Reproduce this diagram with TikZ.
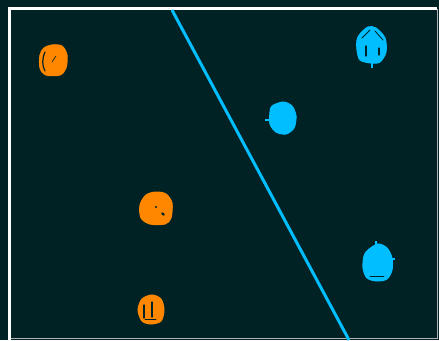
\documentclass[tikz,border=0pt]{standalone}
\begin{document}
\begin{tikzpicture}[x=1pt,y=-1pt,
  blobO/.style={fill=orng,draw=orng,line width=1pt},
  blobB/.style={fill=skyb,draw=skyb,line width=1pt},
  markD/.style={draw=bgc,line width=1.2pt,line cap=round},
  divider/.style={draw=skyb,line width=3pt}]
\definecolor{bgc}{RGB}{1,34,37}
\definecolor{orng}{RGB}{255,135,0}
\definecolor{skyb}{RGB}{0,190,255}
\useasboundingbox (0,0) rectangle (439,340);
\fill[bgc] (0,0) rectangle (439,340);
% frame
\draw[white,line width=3pt] (9.5,340) -- (9.5,8.5) -- (437,8.5);
\draw[gray!60,line width=1pt] (437,8.5) -- (437,338.5) -- (11,338.5);
% divider line
\coordinate (ltop) at (172,10);
\coordinate (lbot) at (349,340);
\draw[divider] (ltop) -- (lbot);
% orange top-left
\draw[blobO] plot[smooth cycle] coordinates {(44,48) (52,45) (62,46) (67,55) (66,68) (60,75) (46,75) (40,68) (40,55)};
\draw[markD] (45,52) .. controls (42,58) and (42,66) .. (45,71);
\draw[markD,line width=0.6pt] (52,62) -- (56,56);
% orange middle
\draw[blobO] plot[smooth cycle] coordinates {(146,195) (156,192) (166,194) (172,203) (171,218) (165,224) (150,224) (141,218) (140,205)};
\fill[bgc] (156,207) circle (1.2);
\fill[bgc,rotate around={-40:(163,214)}] (163,214) ellipse (2 and 1.2);
% orange bottom
\draw[blobO] plot[smooth cycle] coordinates {(142,299) (152,295) (161,299) (164,310) (161,321) (151,324) (142,321) (138,310)};
\draw[markD] (144,305) -- (144,318);
\draw[markD] (152,302) -- (152,317);
\draw[markD,line width=0.6pt] (145,319) -- (156,319);
% blue top-right
\draw[blobB] plot[smooth cycle] coordinates {(360,34) (368,27) (376,28) (385,38) (386,52) (380,62) (371,63) (360,60) (357,50) (357,40)};
\draw[skyb,line width=1.5pt] (372,62) -- (372,68);
\draw[markD,line width=0.8pt] (362,38) -- (370,30);
\draw[markD,line width=0.8pt] (375,31) -- (383,40);
\draw[markD] (366,46) -- (366,56);
\draw[markD] (379,48) -- (379,55);
% blue middle
\draw[blobB] plot[smooth cycle] coordinates {(272,106) (283,102) (292,106) (296,116) (294,128) (286,134) (276,132) (270,124) (270,112)};
\draw[skyb,line width=1.5pt] (265,120) -- (272,120);
% blue bottom-right
\draw[blobB] plot[smooth cycle] coordinates {(368,250) (378,244) (387,248) (392,258) (392,270) (387,279) (377,281) (367,278) (363,268) (364,256)};
\draw[skyb,line width=1.5pt] (376,241) -- (376,247);
\draw[skyb,line width=1.5pt] (391,259) -- (395,259);
\draw[markD,line width=0.6pt] (370,276) -- (384,276);
\end{tikzpicture}
\end{document}
